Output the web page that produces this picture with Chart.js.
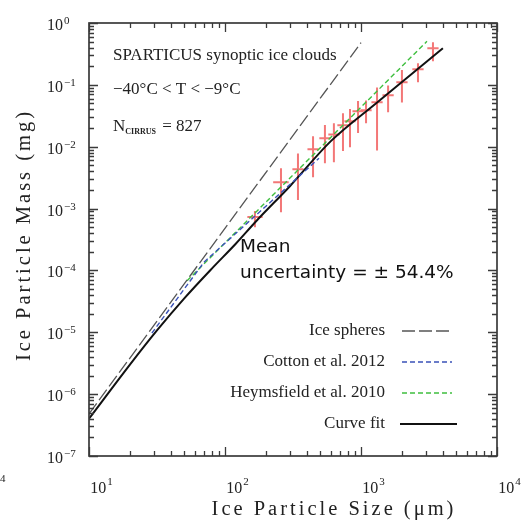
<!DOCTYPE html>
<html>
<head>
<meta charset="utf-8">
<script src="https://cdn.jsdelivr.net/npm/chart.js@4.4.0/dist/chart.umd.min.js"></script>
<style>
  body { margin: 0; background: #fff; }
  #wrap { width: 527px; height: 528px; }
</style>
</head>
<body>
<div id="wrap"><canvas id="myChart" width="527" height="528"></canvas></div>
<script>
// SPARTICUS binned measurements (size in um, mass in mg)
const sizes = [166, 258, 344, 444, 543, 632, 737, 830, 951, 1089, 1312, 1582, 2000, 2624, 3382];
const sizeLow = [146, 226, 313, 404, 494, 575, 670, 755, 865, 990, 1193, 1438, 1818, 2385, 3075];
const sizeHigh = [189, 294, 378, 488, 597, 695, 811, 913, 1046, 1198, 1443, 1740, 2200, 2886, 3720];
const masses = [7.3e-4, 2.67e-3, 4.33e-3, 9.1e-3, 1.37e-2, 1.58e-2, 2.22e-2, 2.58e-2, 3.75e-2, 3.89e-2, 5.24e-2, 6.79e-2, 0.110, 0.179, 0.390];
const massLow = [5.0e-4, 8.7e-4, 1.38e-3, 3.2e-3, 5.4e-3, 5.6e-3, 8.5e-3, 9.8e-3, 1.66e-2, 2.4e-2, 8.7e-3, 3.6e-2, 0.052, 0.11, 0.24];
const massHigh = [9.1e-4, 4.5e-3, 7.8e-3, 1.48e-2, 2.24e-2, 2.4e-2, 3.47e-2, 4.07e-2, 5.5e-2, 5.6e-2, 9.1e-2, 9.8e-2, 0.174, 0.224, 0.49];

// relations
const sphereSize = [10, 1000];
const sphereMass = [4.8e-7, 0.48];
const cottonSize = [29, 70, 491];
const cottonMass = [9.7e-6, 1.36e-4, 6.5e-3];
const heymsSize = [52.6, 3055];
const heymsMass = [6.8e-5, 0.506];
const fitSize = [10, 20, 31.6, 50, 80, 120, 170, 300, 600, 1300, 2000, 4000];
const fitMass = [4.0e-7, 3.0e-6, 1.07e-5, 3.5e-5, 1.07e-4, 2.7e-4, 6.3e-4, 2.3e-3, 1.23e-2, 5.1e-2, 0.111, 0.39];

// axes
const xTickValues = [10, 100, 1000, 10000];
const xTickExps = ['1', '2', '3', '4'];
const yTickValues = [1e-7, 1e-6, 1e-5, 1e-4, 1e-3, 1e-2, 1e-1, 1];
const yTickExps = ['\u22127', '\u22126', '\u22125', '\u22124', '\u22123', '\u22122', '\u22121', '0'];

const SERIF = '"Liberation Serif", "DejaVu Serif", serif';

const toPoints = (xs, ys) => xs.map((x, i) => ({ x: x, y: ys[i] }));

const crossData = [];
sizes.forEach((s, i) => {
  crossData.push({ x: sizeLow[i], y: masses[i] }, { x: sizeHigh[i], y: masses[i] }, { x: s, y: null });
  crossData.push({ x: s, y: massLow[i] }, { x: s, y: massHigh[i] }, { x: s, y: null });
});

const decorations = {
  id: 'decorations',
  afterDatasetsDraw(chart) {
    const ctx = chart.ctx;
    const a = chart.chartArea;
    const xs = chart.scales.x;
    const ys = chart.scales.y;
    ctx.save();
    ctx.strokeStyle = '#3a3a3a';
    ctx.lineWidth = 1.3;
    // inward ticks on all four sides
    ctx.beginPath();
    for (let k = 1; k <= 4; k++) {
      for (let m = 1; m <= 9; m++) {
        const v = m * Math.pow(10, k);
        if (v > 10000) break;
        const px = Math.round(xs.getPixelForValue(v)) + 0.5;
        const len = m === 1 ? 9 : 5;
        ctx.moveTo(px, a.bottom); ctx.lineTo(px, a.bottom - len);
        ctx.moveTo(px, a.top); ctx.lineTo(px, a.top + len);
      }
    }
    for (let k = -7; k <= 0; k++) {
      for (let m = 1; m <= 9; m++) {
        const v = m * Math.pow(10, k);
        if (v > 1) break;
        const py = Math.round(ys.getPixelForValue(v)) + 0.5;
        const len = m === 1 ? 9 : 5;
        ctx.moveTo(a.left, py); ctx.lineTo(a.left + len, py);
        ctx.moveTo(a.right, py); ctx.lineTo(a.right - len, py);
      }
    }
    ctx.stroke();
    ctx.lineWidth = 1.7;
    ctx.strokeRect(a.left, a.top, a.right - a.left, a.bottom - a.top);
    ctx.restore();
  },
  afterDraw(chart) {
    const ctx = chart.ctx;
    const a = chart.chartArea;
    const xs = chart.scales.x;
    const ys = chart.scales.y;
    ctx.save();
    ctx.fillStyle = '#222';
    ctx.textBaseline = 'alphabetic';

    // x tick labels
    xTickValues.forEach((v, i) => {
      ctx.font = '16px ' + SERIF;
      const w1 = ctx.measureText('10').width;
      ctx.font = '11px ' + SERIF;
      const w2 = ctx.measureText(xTickExps[i]).width;
      const cx = xs.getPixelForValue(v) + 12;
      const x0 = cx - (w1 + w2) / 2;
      ctx.textAlign = 'left';
      ctx.font = '16px ' + SERIF;
      ctx.fillText('10', x0, a.bottom + 37);
      ctx.font = '11px ' + SERIF;
      ctx.fillText(xTickExps[i], x0 + w1 + 1, a.bottom + 29);
    });

    // y tick labels
    yTickValues.forEach((v, i) => {
      const py = ys.getPixelForValue(v);
      ctx.textAlign = 'left';
      ctx.font = '16px ' + SERIF;
      const w1 = ctx.measureText('10').width;
      ctx.fillText('10', 47, py + 7);
      ctx.font = '11px ' + SERIF;
      ctx.fillText(yTickExps[i], 47 + w1 + 1, py + 1);
    });

    // leftover label from neighbouring panel
    ctx.font = '11px ' + SERIF;
    ctx.fillText('4', 0, 482);

    // axis titles
    ctx.font = '20.5px ' + SERIF;
    ctx.letterSpacing = '3px';
    ctx.textAlign = 'center';
    ctx.textBaseline = 'middle';
    ctx.fillText('Ice Particle Size (\u03bcm)', 334, 510);
    ctx.save();
    ctx.translate(25, 235);
    ctx.rotate(-Math.PI / 2);
    ctx.fillText('Ice Particle Mass (mg)', 0, 0);
    ctx.restore();
    ctx.letterSpacing = '0px';

    // annotations
    ctx.textAlign = 'left';
    ctx.font = '17px ' + SERIF;
    ctx.fillText('SPARTICUS synoptic ice clouds', 113, 56);
    ctx.fillText('\u221240\u00b0C < T < \u22129\u00b0C', 113, 90);
    ctx.fillText('N', 113, 127);
    const nW = ctx.measureText('N').width;
    ctx.font = 'bold 8px ' + SERIF;
    ctx.fillText('CIRRUS', 113 + nW, 132);
    const cW = ctx.measureText('CIRRUS').width;
    ctx.font = '17px ' + SERIF;
    ctx.fillText(' = 827', 113 + nW + cW + 2, 127);

    ctx.font = '18.5px "DejaVu Sans", sans-serif';
    ctx.fillStyle = '#111';
    ctx.fillText('Mean', 240, 247);
    ctx.fillText('uncertainty = \u00b1 54.4%', 240, 273);

    // key
    const rows = chart.data.datasets.filter(ds => ds.inKey);
    rows.forEach((ds, i) => {
      const y = 331 + i * 31;
      ctx.font = '17px ' + SERIF;
      ctx.fillStyle = '#222';
      ctx.textAlign = 'right';
      ctx.fillText(ds.label, 385, y);
      ctx.beginPath();
      ctx.strokeStyle = ds.borderColor;
      ctx.lineWidth = ds.borderWidth;
      ctx.setLineDash(ds.borderDash || []);
      const solid = !ds.borderDash;
      ctx.moveTo(solid ? 400 : 402, y);
      ctx.lineTo(solid ? 457 : 452, y);
      ctx.stroke();
      ctx.setLineDash([]);
    });
    ctx.restore();
  }
};

const ctx = document.getElementById('myChart').getContext('2d');

new Chart(ctx, {
  type: 'scatter',
  data: {
    datasets: [
      {
        label: 'Ice spheres',
        inKey: true,
        data: toPoints(sphereSize, sphereMass),
        showLine: true,
        borderColor: '#555',
        borderWidth: 1.3,
        borderDash: [13, 4],
        pointRadius: 0
      },
      {
        label: 'Cotton et al. 2012',
        inKey: true,
        data: toPoints(cottonSize, cottonMass),
        showLine: true,
        borderColor: '#3a52b8',
        borderWidth: 1.4,
        borderDash: [5, 3],
        pointRadius: 0
      },
      {
        label: 'Heymsfield et al. 2010',
        inKey: true,
        data: toPoints(heymsSize, heymsMass),
        showLine: true,
        borderColor: '#3fbf3f',
        borderWidth: 1.4,
        borderDash: [5, 3],
        pointRadius: 0
      },
      {
        label: 'Curve fit',
        inKey: true,
        data: toPoints(fitSize, fitMass),
        showLine: true,
        borderColor: '#111',
        borderWidth: 2,
        cubicInterpolationMode: 'monotone',
        pointRadius: 0
      },
      {
        label: 'SPARTICUS',
        data: crossData,
        showLine: true,
        spanGaps: false,
        borderColor: 'rgba(240, 85, 85, 0.8)',
        borderWidth: 2,
        pointRadius: 0
      }
    ]
  },
  options: {
    responsive: false,
    animation: false,
    layout: { padding: { left: 89, top: 23, right: 30, bottom: 72 } },
    plugins: {
      legend: { display: false },
      tooltip: { enabled: false }
    },
    scales: {
      x: { type: 'logarithmic', min: 10, max: 10000, display: false },
      y: { type: 'logarithmic', min: 1e-7, max: 1, display: false }
    }
  },
  plugins: [decorations]
});
</script>
</body>
</html>
